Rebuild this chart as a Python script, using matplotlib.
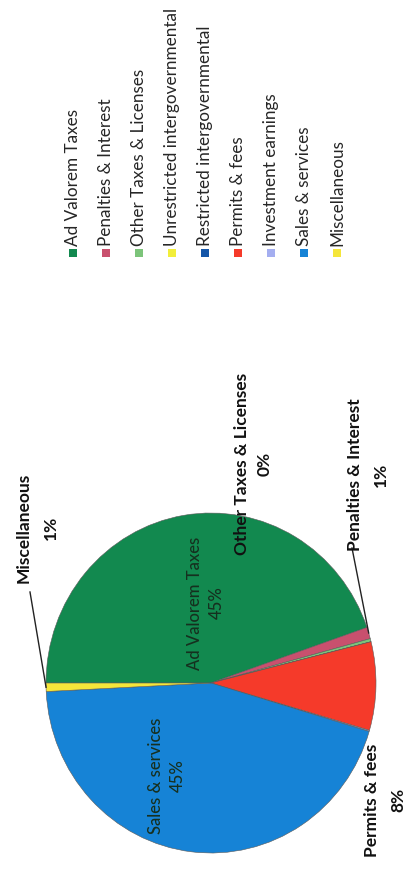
import numpy as np
import matplotlib
matplotlib.use('Agg')
import matplotlib.pyplot as plt
from matplotlib.patches import Rectangle
from matplotlib.lines import Line2D

plt.rcParams['font.family'] = ['Lato', 'DejaVu Sans']

categories = ['Ad Valorem Taxes', 'Penalties & Interest', 'Other Taxes & Licenses',
              'Unrestricted intergovernmental', 'Restricted intergovernmental',
              'Permits & fees', 'Investment earnings', 'Sales & services', 'Miscellaneous']
shares = [44.7, 1.1, 0.3, 0.0, 0.0, 8.4, 0.1, 44.6, 0.8]
colors = ['#12894f', '#c9506e', '#7cc47a', '#f2ee3a', '#1456a8',
          '#f53a2a', '#a4aef0', '#1683d6', '#f5e63a']

W, H = 406, 869
fig = plt.figure(figsize=(W / 100, H / 100), dpi=100)

def fx(px):
    return px / W

def fy(py):
    return 1 - py / H

# pie (whole chart is turned a quarter turn, so labels run bottom to top)
cx, cy, rx, ry = 211, 683, 165, 170
ax = fig.add_axes([fx(cx - rx), fy(cy + ry), 2 * rx / W, 2 * ry / H])
wedges, _ = ax.pie(shares, colors=colors, startangle=180, counterclock=False,
                   wedgeprops=dict(linewidth=0.4, edgecolor='#5a5a5a'))
ax.set_aspect('auto')
ax.set_xlim(-1, 1)
ax.set_ylim(-1, 1)
ax.axis('off')

def pct(i):
    return '%d%%' % round(shares[i])

# labels inside the pie
inside = {0: (206, 603), 7: (167, 776)}
for i, (px, py) in inside.items():
    fig.text(fx(px), fy(py), categories[i] + '\n' + pct(i), rotation=90,
             ha='center', va='center', multialignment='center',
             fontsize=12, fontweight='medium', color='#16301f', linespacing=1.5)

# labels outside the pie, with leader lines
outside = {8: (37, 528, 1.9), 2: (253, 464, 1.5), 1: (368, 475, 1.8), 5: (385, 800, 1.8)}
leaders = {8: (30, 592), 1: (352, 548)}
for i, (px, py, ls) in outside.items():
    fig.text(fx(px), fy(py), categories[i] + '\n' + pct(i), rotation=90,
             ha='center', va='center', multialignment='center',
             fontsize=12.5, fontweight='bold', color='#111111', linespacing=ls)
for i, (lx, ly) in leaders.items():
    w = wedges[i]
    mid = np.deg2rad((w.theta1 + w.theta2) / 2)
    ex, ey = ax.transData.transform((np.cos(mid), np.sin(mid)))
    ex, ey = fig.transFigure.inverted().transform((ex, ey))
    fig.add_artist(Line2D([ex, fx(lx)], [ey, fy(ly)], color='#222222', lw=1.0))

# legend, one column per entry
for i, name in enumerate(categories):
    x = 73 + 33 * i
    fig.add_artist(Rectangle((fx(x - 4), fy(257)), 8 / W, 8 / H,
                             facecolor=colors[i], edgecolor='none'))
    fig.text(fx(x), fy(246), name, rotation=90, ha='center', va='bottom',
             fontsize=12.3, color='#262626')

fig.savefig('out.png', dpi=100, facecolor='white')
